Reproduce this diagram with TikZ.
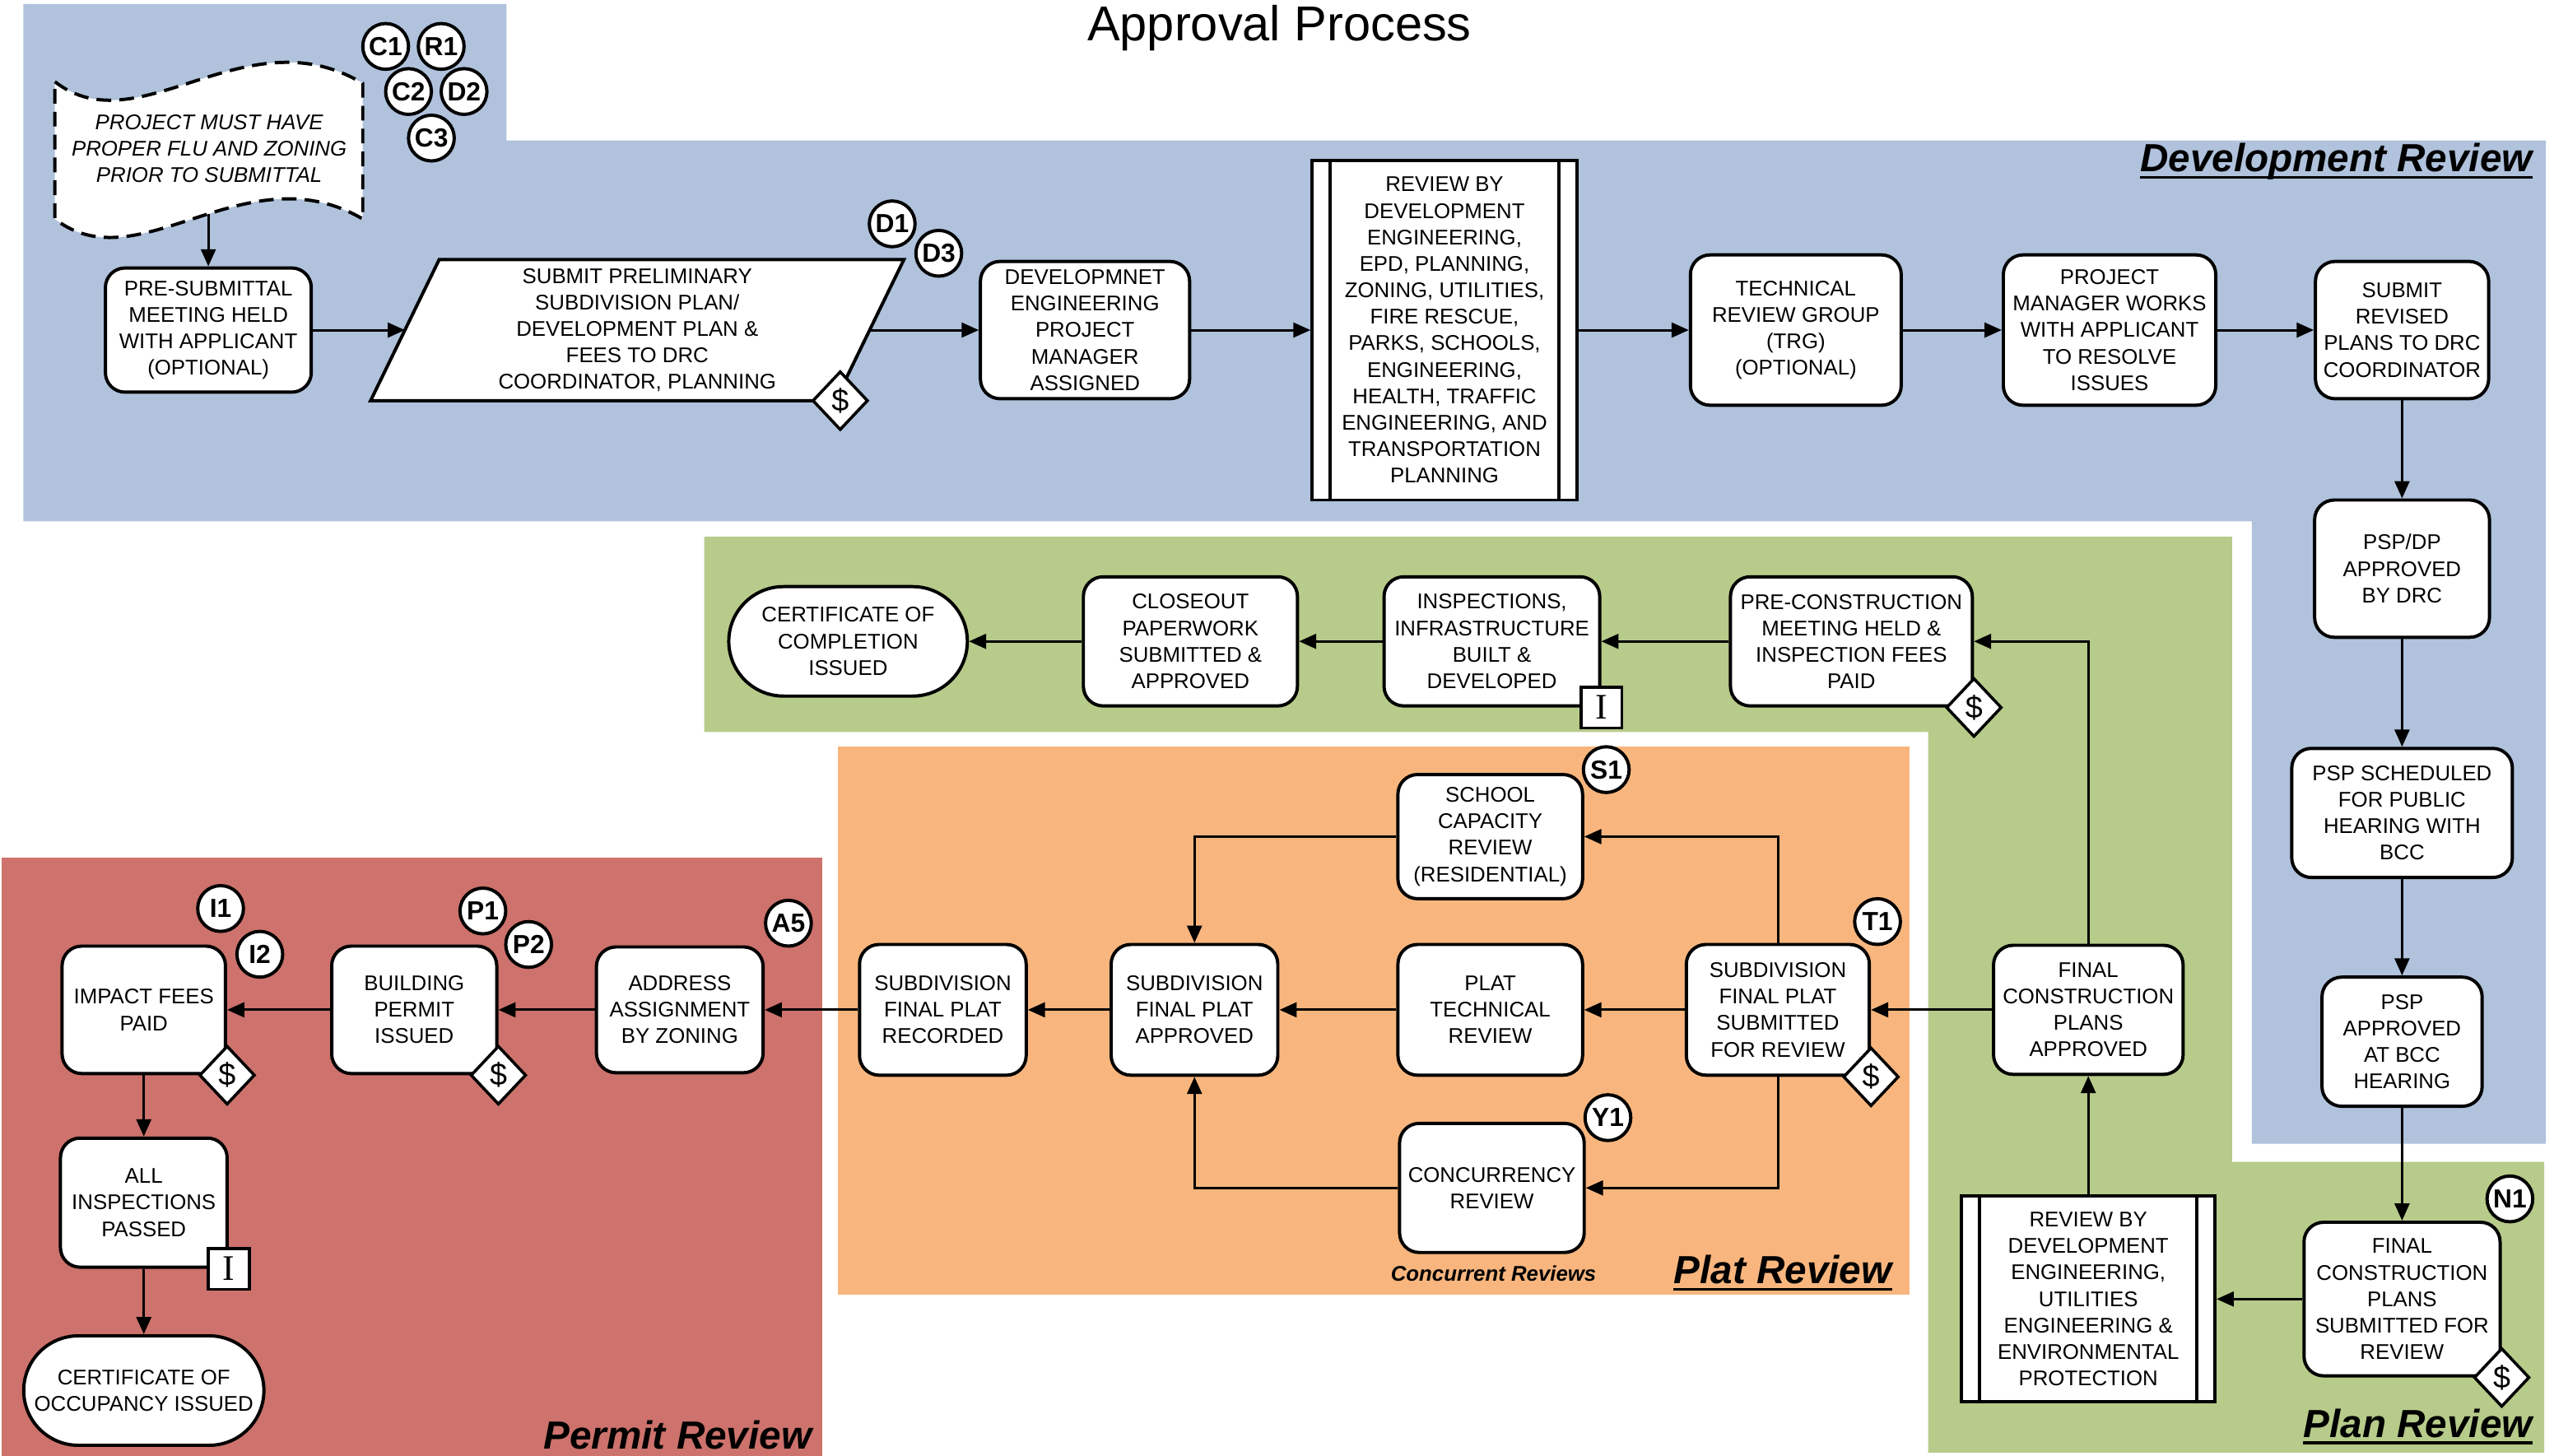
\documentclass[tikz,border=0pt]{standalone}
\usepackage{fontspec}
\setmainfont{Liberation Sans}
\newfontfamily\serifI{Liberation Serif}
\usetikzlibrary{arrows.meta,shapes.geometric,shapes.misc}
\pgfdeclarelayer{bg}
\pgfsetlayers{bg,main}
\definecolor{devblue}{RGB}{176,194,220}
\definecolor{plangreen}{RGB}{183,203,138}
\definecolor{platorange}{RGB}{248,182,126}
\definecolor{permitred}{RGB}{205,114,108}
\tikzset{
  boxfont/.style={font=\fontsize{13}{16.2}\selectfont},
  box/.style={draw, line width=2pt, fill=white, rounded corners=12pt, align=center, inner sep=0pt, boxfont},
  procbox/.style={draw, line width=2pt, fill=white, align=center, inner sep=0pt, boxfont},
  termbox/.style={rounded rectangle, draw, line width=2pt, fill=white, align=center, inner sep=0pt, boxfont},
  tag/.style={circle, draw, line width=2pt, fill=white, minimum size=28pt, inner sep=0pt, font=\bfseries\fontsize{16}{16}\selectfont},
  fee/.style={diamond, draw, line width=1.8pt, fill=white, minimum width=34pt, minimum height=36pt, inner sep=0pt, font=\fontsize{19}{19}\selectfont},
  insbox/.style={rectangle, draw, line width=1.8pt, fill=white, minimum width=25pt, minimum height=25pt, inner sep=0pt, font=\serifI\fontsize{22}{22}\selectfont},
  flow/.style={line width=1.5pt, -{Triangle[length=10.5pt,width=9pt]}},
  region/.style={font=\bfseries\itshape\fontsize{24}{24}\selectfont, inner sep=0pt},
  uline/.style={line width=1.8pt},
}
\begin{document}
\begin{tikzpicture}[x=1pt,y=-1pt]
\path[use as bounding box] (0,0) rectangle (1563,891);

% ---------- regions ----------
\begin{pgfonlayer}{bg}
\fill[devblue] (14.3,2.5) -- (310,2.5) -- (310,86) -- (1558,86) -- (1558,700) -- (1378,700) -- (1378,319) -- (14.3,319) -- cycle;
\fill[plangreen] (431,328.5) -- (1366,328.5) -- (1366,711) -- (1557,711) -- (1557,889) -- (1180,889) -- (1180,448) -- (431,448) -- cycle;
\fill[platorange] (513,457) rectangle (1168.7,792.5);
\fill[permitred] (1,524.8) rectangle (503,891);
\end{pgfonlayer}

% ---------- titles ----------
\node[anchor=base, inner sep=0pt, font=\fontsize{30}{30}\selectfont] (title) at (783,25) {Approval Process};
\node[region, anchor=base east] (devlab) at (1550,105) {Development Review};
\draw[uline] ([yshift=-3.5pt]devlab.base west) -- ([yshift=-3.5pt]devlab.base east);
\node[region, anchor=base east] (platlab) at (1158,785.6) {Plat Review};
\draw[uline] ([yshift=-3.5pt]platlab.base west) -- ([yshift=-3.5pt]platlab.base east);
\node[region, anchor=base east] (planlab) at (1550,879.6) {Plan Review};
\draw[uline] ([yshift=-3.5pt]planlab.base west) -- ([yshift=-3.5pt]planlab.base east);
\node[region, anchor=base east] (permlab) at (497,887) {Permit Review};
\node[anchor=base, inner sep=0pt, font=\bfseries\itshape\fontsize{13}{13}\selectfont] (conclab) at (914,784) {Concurrent Reviews};

% ---------- development review ----------
\node[align=center, inner sep=0pt, font=\itshape\fontsize{13}{16.2}\selectfont] (wave) at (128,91)
  {PROJECT MUST HAVE\\PROPER FLU AND ZONING\\PRIOR TO SUBMITTAL};
\begin{pgfonlayer}{bg}
\draw[fill=white, line width=2pt, dash pattern=on 9pt off 5pt]
  (33.6,50) .. controls (85,90) and (150,8) .. (222,51) -- (222,134)
  .. controls (150,92) and (85,174) .. (33.6,134) -- cycle;
\end{pgfonlayer}
\coordinate (wavebot) at (127.5,131);

\node[box, minimum width=126pt, minimum height=76pt] (presub) at (127.5,202)
  {PRE-SUBMITTAL\\MEETING HELD\\WITH APPLICANT\\(OPTIONAL)};
\node[align=center, inner sep=0pt, boxfont, minimum width=284pt, minimum height=86pt] (psub) at (390,202)
  {SUBMIT PRELIMINARY\\SUBDIVISION PLAN/\\DEVELOPMENT PLAN \&\\FEES TO DRC\\COORDINATOR, PLANNING};
\begin{pgfonlayer}{bg}
\draw[fill=white, line width=2pt] ([xshift=21pt]psub.north west) -- ([xshift=21pt]psub.north east)
  -- ([xshift=-21pt]psub.south east) -- ([xshift=-21pt]psub.south west) -- cycle;
\end{pgfonlayer}
\node[box, minimum width=128pt, minimum height=84pt] (devpm) at (664,202)
  {DEVELOPMNET\\ENGINEERING\\PROJECT\\MANAGER\\ASSIGNED};
\node[procbox, minimum width=162pt, minimum height=208pt] (revby) at (884,202)
  {REVIEW BY\\DEVELOPMENT\\ENGINEERING,\\EPD, PLANNING,\\ZONING, UTILITIES,\\FIRE RESCUE,\\PARKS, SCHOOLS,\\ENGINEERING,\\HEALTH, TRAFFIC\\ENGINEERING, AND\\TRANSPORTATION\\PLANNING};
\draw[line width=2pt] ([xshift=12pt]revby.north west) -- ([xshift=12pt]revby.south west);
\draw[line width=2pt] ([xshift=-12pt]revby.north east) -- ([xshift=-12pt]revby.south east);
\node[box, minimum width=129pt, minimum height=92pt] (trg) at (1099,202)
  {TECHNICAL\\REVIEW GROUP\\(TRG)\\(OPTIONAL)};
\node[box, minimum width=130pt, minimum height=92pt] (pmw) at (1291,202)
  {PROJECT\\MANAGER WORKS\\WITH APPLICANT\\TO RESOLVE\\ISSUES};
\node[box, minimum width=106pt, minimum height=84pt] (subrev) at (1470,202)
  {SUBMIT\\REVISED\\PLANS TO DRC\\COORDINATOR};
\node[box, minimum width=107pt, minimum height=84pt] (pspdp) at (1470,348)
  {PSP/DP\\APPROVED\\BY DRC};
\node[box, minimum width=135pt, minimum height=79pt] (pspsch) at (1470,497.5)
  {PSP SCHEDULED\\FOR PUBLIC\\HEARING WITH\\BCC};
\node[box, minimum width=98pt, minimum height=79pt] (pspapp) at (1470,637.5)
  {PSP\\APPROVED\\AT BCC\\HEARING};

% ---------- plan review ----------
\node[box, minimum width=120pt, minimum height=94pt] (fcps) at (1470,795)
  {FINAL\\CONSTRUCTION\\PLANS\\SUBMITTED FOR\\REVIEW};
\node[procbox, minimum width=155pt, minimum height=126pt] (revdev2) at (1278,795)
  {REVIEW BY\\DEVELOPMENT\\ENGINEERING,\\UTILITIES\\ENGINEERING \&\\ENVIRONMENTAL\\PROTECTION};
\draw[line width=2pt] ([xshift=12pt]revdev2.north west) -- ([xshift=12pt]revdev2.south west);
\draw[line width=2pt] ([xshift=-12pt]revdev2.north east) -- ([xshift=-12pt]revdev2.south east);
\node[box, minimum width=116pt, minimum height=79pt] (fcpa) at (1278,618)
  {FINAL\\CONSTRUCTION\\PLANS\\APPROVED};
\node[box, minimum width=148pt, minimum height=79pt] (precon) at (1133,392.5)
  {PRE-CONSTRUCTION\\MEETING HELD \&\\INSPECTION FEES\\PAID};
\node[box, minimum width=132pt, minimum height=79pt] (insp) at (913,392.5)
  {INSPECTIONS,\\INFRASTRUCTURE\\BUILT \&\\DEVELOPED};
\node[box, minimum width=131pt, minimum height=79pt] (closeout) at (728.5,392.5)
  {CLOSEOUT\\PAPERWORK\\SUBMITTED \&\\APPROVED};
\node[termbox, minimum width=146pt, minimum height=67pt] (certcomp) at (519,392.5)
  {CERTIFICATE OF\\COMPLETION\\ISSUED};

% ---------- plat review ----------
\node[box, minimum width=112pt, minimum height=80pt] (sfps) at (1088,618)
  {SUBDIVISION\\FINAL PLAT\\SUBMITTED\\FOR REVIEW};
\node[box, minimum width=113pt, minimum height=80pt] (plattech) at (912,618)
  {PLAT\\TECHNICAL\\REVIEW};
\node[box, minimum width=113pt, minimum height=76pt] (school) at (912,512)
  {SCHOOL\\CAPACITY\\REVIEW\\(RESIDENTIAL)};
\node[box, minimum width=113pt, minimum height=79pt] (concur) at (913,727)
  {CONCURRENCY\\REVIEW};
\node[box, minimum width=102pt, minimum height=80pt] (sfpa) at (731,618)
  {SUBDIVISION\\FINAL PLAT\\APPROVED};
\node[box, minimum width=102pt, minimum height=80pt] (sfpr) at (577,618)
  {SUBDIVISION\\FINAL PLAT\\RECORDED};

% ---------- permit review ----------
\node[box, minimum width=102pt, minimum height=77pt] (addr) at (416,618)
  {ADDRESS\\ASSIGNMENT\\BY ZONING};
\node[box, minimum width=101pt, minimum height=78pt] (bldg) at (253.5,618)
  {BUILDING\\PERMIT\\ISSUED};
\node[box, minimum width=100pt, minimum height=78pt] (impact) at (88,618)
  {IMPACT FEES\\PAID};
\node[box, minimum width=102pt, minimum height=79pt] (allinsp) at (88,736)
  {ALL\\INSPECTIONS\\PASSED};
\node[termbox, minimum width=147pt, minimum height=67pt] (certocc) at (88,851)
  {CERTIFICATE OF\\OCCUPANCY ISSUED};

% ---------- connectors ----------
\draw[flow] (wavebot) -- (presub.north);
\draw[flow] (presub.east) -- (psub.west);
\draw[flow] (psub.east) -- (devpm.west);
\draw[flow] (devpm.east) -- (revby.west);
\draw[flow] (revby.east) -- (trg.west);
\draw[flow] (trg.east) -- (pmw.west);
\draw[flow] (pmw.east) -- (subrev.west);
\draw[flow] (subrev.south) -- (pspdp.north);
\draw[flow] (pspdp.south) -- (pspsch.north);
\draw[flow] (pspsch.south) -- (pspapp.north);
\draw[flow] (pspapp.south) -- (fcps.north);
\draw[flow] (fcps.west) -- (revdev2.east);
\draw[flow] (revdev2.north) -- (fcpa.south);
\draw[flow] (fcpa.north) |- (precon.east);
\draw[flow] (fcpa.west) -- (sfps.east);
\draw[flow] (precon.west) -- (insp.east);
\draw[flow] (insp.west) -- (closeout.east);
\draw[flow] (closeout.west) -- (certcomp.east);
\draw[flow] (sfps.west) -- (plattech.east);
\draw[flow] (plattech.west) -- (sfpa.east);
\draw[flow] (sfpa.west) -- (sfpr.east);
\draw[flow] (sfpr.west) -- (addr.east);
\draw[flow] (addr.west) -- (bldg.east);
\draw[flow] (bldg.west) -- (impact.east);
\draw[flow] (impact.south) -- (allinsp.north);
\draw[flow] (allinsp.south) -- (certocc.north);
\draw[flow] (sfps.north) |- (school.east);
\draw[flow] (school.west) -| (sfpa.north);
\draw[flow] (sfps.south) |- (concur.east);
\draw[flow] (concur.west) -| (sfpa.south);

% ---------- fee diamonds and inspection marks ----------
\node[fee] (feepsub) at ([xshift=-18pt]psub.south east) {\$};
\node[fee] (feeprecon) at (precon.south east) {\$};
\node[fee] (feesfps) at (sfps.south east) {\$};
\node[fee] (feefcps) at (fcps.south east) {\$};
\node[fee] (feebldg) at (bldg.south east) {\$};
\node[fee] (feeimpact) at (impact.south east) {\$};
\node[insbox] (insinsp) at (insp.south east) {I};
\node[insbox] (insall) at (allinsp.south east) {I};

% ---------- code tags ----------
\node[tag] (tC1) at (236,28.4) {C1};
\node[tag] (tR1) at (270,28.4) {R1};
\node[tag] (tC2) at (250,56) {C2};
\node[tag] (tD2) at (284,56) {D2};
\node[tag] (tC3) at (264,84.5) {C3};
\node[tag] (tD1) at (546,137) {D1};
\node[tag] (tD3) at (574.5,155) {D3};
\node[tag] (tN1) at (1536,733.7) {N1};
\node[tag] (tS1) at (983,471) {S1};
\node[tag] (tT1) at (1149,564) {T1};
\node[tag] (tY1) at (984,684) {Y1};
\node[tag] (tA5) at (482.5,565) {A5};
\node[tag] (tP1) at (295.5,557.5) {P1};
\node[tag] (tP2) at (323.5,578) {P2};
\node[tag] (tI1) at (135,556) {I1};
\node[tag] (tI2) at (159,584) {I2};
\end{tikzpicture}
\end{document}
